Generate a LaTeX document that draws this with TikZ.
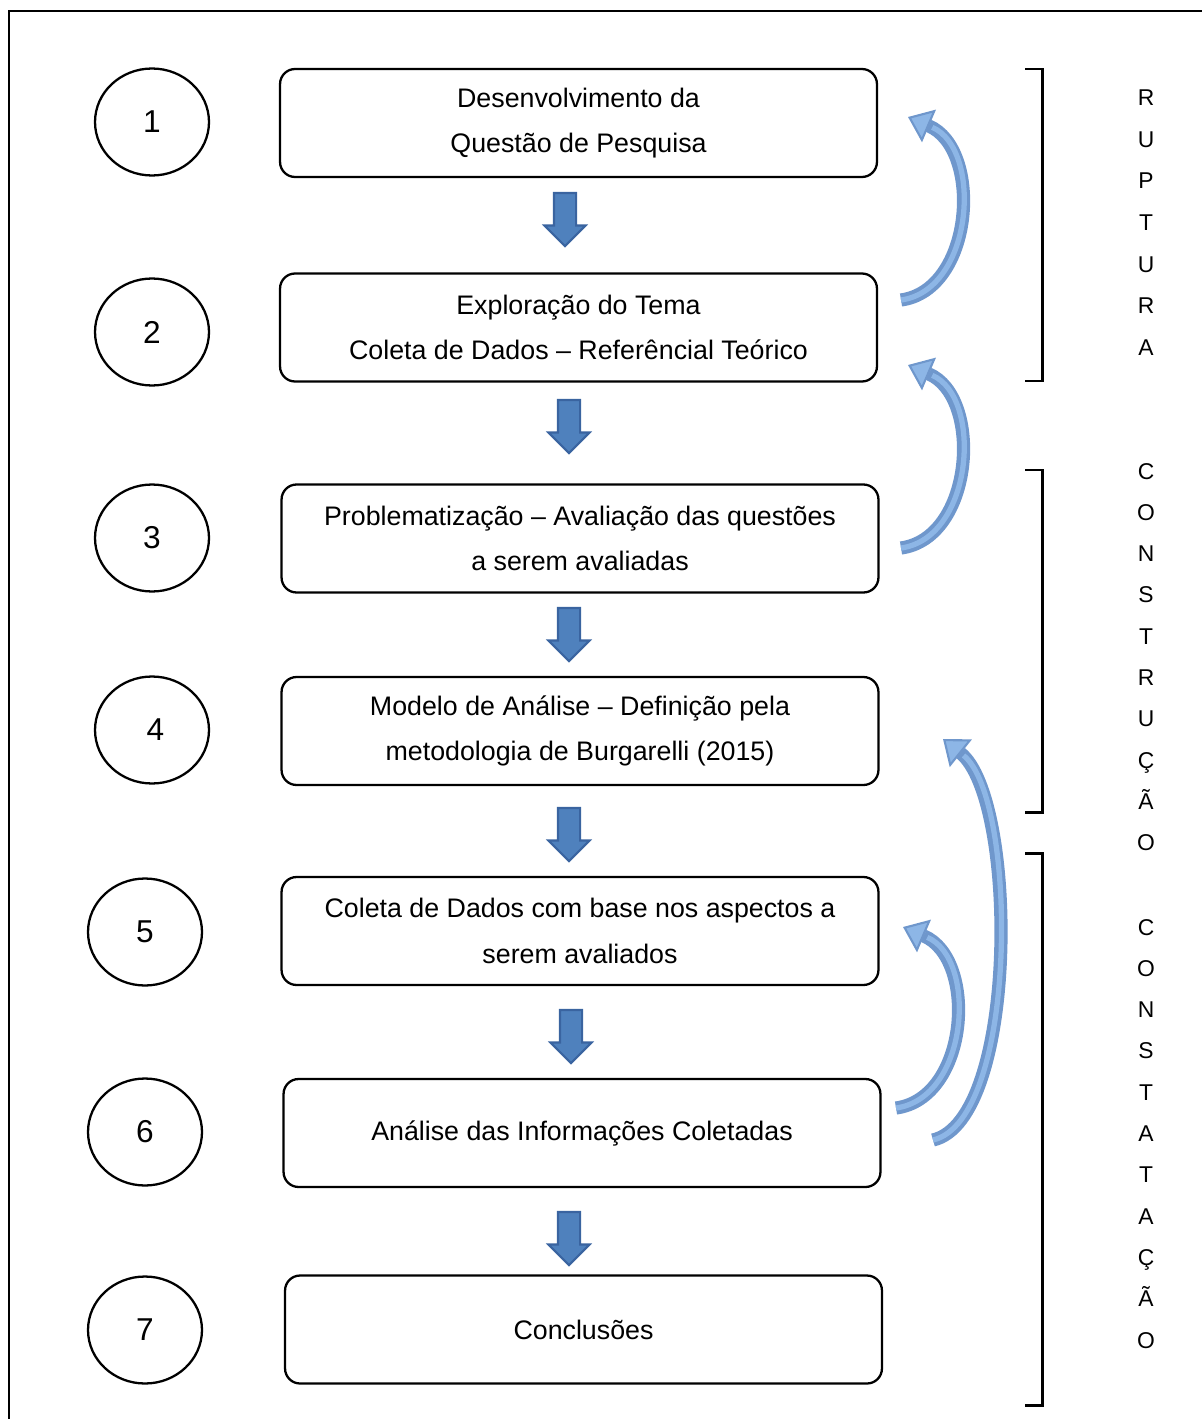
\documentclass[tikz,border=0pt]{standalone}
\usepackage{fontspec}
\setmainfont{Liberation Sans}
\usetikzlibrary{arrows.meta,shapes.geometric,shapes.arrows}

\definecolor{arrowfill}{HTML}{4F81BD}
\definecolor{arrowline}{HTML}{3A64A0}
\definecolor{curveline}{HTML}{6F97CC}
\definecolor{curvefill}{HTML}{8DB6E6}

\begin{document}
\begin{tikzpicture}[x=0.02cm,y=-0.02cm,
    num/.style={draw,ellipse,line width=1.3pt,minimum width=2.28cm,
                minimum height=2.14cm,font=\fontsize{18}{21}\selectfont},
    stage/.style={draw,rounded corners=0.3cm,line width=1.3pt,
                  minimum width=11.94cm,minimum height=2.16cm,align=center,
                  font=\fontsize{15.25}{26}\selectfont},
    downarrow/.style={single arrow,draw=arrowline,fill=arrowfill,
                      line width=1.2pt,rotate=-90,minimum height=1.06cm,
                      single arrow head extend=0.19cm,inner xsep=0pt,
                      inner ysep=0.2cm},
    curvearrow/.style={draw=curveline,line width=7.5pt,
                       -{Triangle[length=13pt,width=20pt,line width=1.2pt,fill=curvefill]}},
    curveinner/.style={draw=curvefill,line width=3pt,shorten >=15pt},
    letter/.style={anchor=base,font=\fontsize{13}{15}\selectfont},
    bracket/.style={line width=1.7pt}]
  \useasboundingbox (0,0) rectangle (1201,1419);

  % frame
  \draw[line width=1.2pt] (9,1440) -- (9,11) -- (1220,11);

  % numbers
  \node[num] (n1) at (152,122)  {1};
  \node[num] (n2) at (152,332)  {2};
  \node[num] (n3) at (152,538)  {3};
  \node[num] (n4) at (152,730)  {\hspace{4pt}4};
  \node[num] (n5) at (145,932)  {5};
  \node[num] (n6) at (145,1132) {6};
  \node[num] (n7) at (145,1330) {7};

  % stages
  \node[stage] (b1) at (578.5,123)  {Desenvolvimento da\\Questão de Pesquisa};
  \node[stage] (b2) at (578.5,327.5) {Exploração do Tema\\Coleta de Dados – Referêncial Teórico};
  \node[stage] (b3) at (580,538.5)  {Problematização – Avaliação das questões\\a serem avaliadas};
  \node[stage] (b4) at (580,731)    {Modelo de Análise – Definição pela\\metodologia de Burgarelli (2015)};
  \node[stage] (b5) at (580,931)    {Coleta de Dados com base nos aspectos a\\serem avaliados};
  \node[stage] (b6) at (582,1133)   {Análise das Informações Coletadas};
  \node[stage] (b7) at (583.5,1329.5) {Conclusões};

  % flow arrows
  \node[downarrow] (d1) at (565,214)  {};
  \node[downarrow] (d2) at (569,421)  {};
  \node[downarrow] (d3) at (569,629)  {};
  \node[downarrow] (d4) at (569,829)  {};
  \node[downarrow] (d5) at (571,1031) {};
  \node[downarrow] (d6) at (569,1233) {};

  % feedback arrows
  \coordinate (c1s) at (901,300);   \coordinate (c1e) at (908,117);
  \coordinate (c2s) at (901,548);   \coordinate (c2e) at (908,365);
  \coordinate (c3s) at (896,1108);  \coordinate (c3e) at (903,927);
  \coordinate (c4s) at (933,1140);  \coordinate (c4e) at (943,739);
  \draw[curvearrow] (c1s) .. controls +(73,-10) and +(75,32) .. (c1e);
  \draw[curvearrow] (c2s) .. controls +(73,-10) and +(75,32) .. (c2e);
  \draw[curvearrow] (c3s) .. controls +(73,-10) and +(75,32) .. (c3e);
  \draw[curvearrow] (c4s) .. controls +(86,-20) and +(75,60) .. (c4e);
  \draw[curveinner] (c1s) .. controls +(73,-10) and +(75,32) .. (c1e);
  \draw[curveinner] (c2s) .. controls +(73,-10) and +(75,32) .. (c2e);
  \draw[curveinner] (c3s) .. controls +(73,-10) and +(75,32) .. (c3e);
  \draw[curveinner] (c4s) .. controls +(86,-20) and +(75,60) .. (c4e);

  % brackets
  \draw[bracket] (1025,69)  -- (1042,69)  -- (1042,381)  -- (1025,381);
  \draw[bracket] (1025,470) -- (1042,470) -- (1042,812)  -- (1025,812);
  \draw[bracket] (1025,853) -- (1042,853) -- (1042,1405) -- (1025,1405);

  % phase names
  \foreach \ch [count=\i] in {R,U,P,T,U,R,A}
    \node[letter] (rup\i) at (1146,{106+41.5*(\i-1)}) {\ch};
  \foreach \ch [count=\i] in {C,O,N,S,T,R,U,Ç,Ã,O}
    \node[letter] (cons\i) at (1146,{479+41.33*(\i-1)}) {\ch};
  \foreach \ch [count=\i] in {C,O,N,S,T,A,T,A,Ç,Ã,O}
    \node[letter] (cont\i) at (1146,{935+41.3*(\i-1)}) {\ch};
\end{tikzpicture}
\end{document}
